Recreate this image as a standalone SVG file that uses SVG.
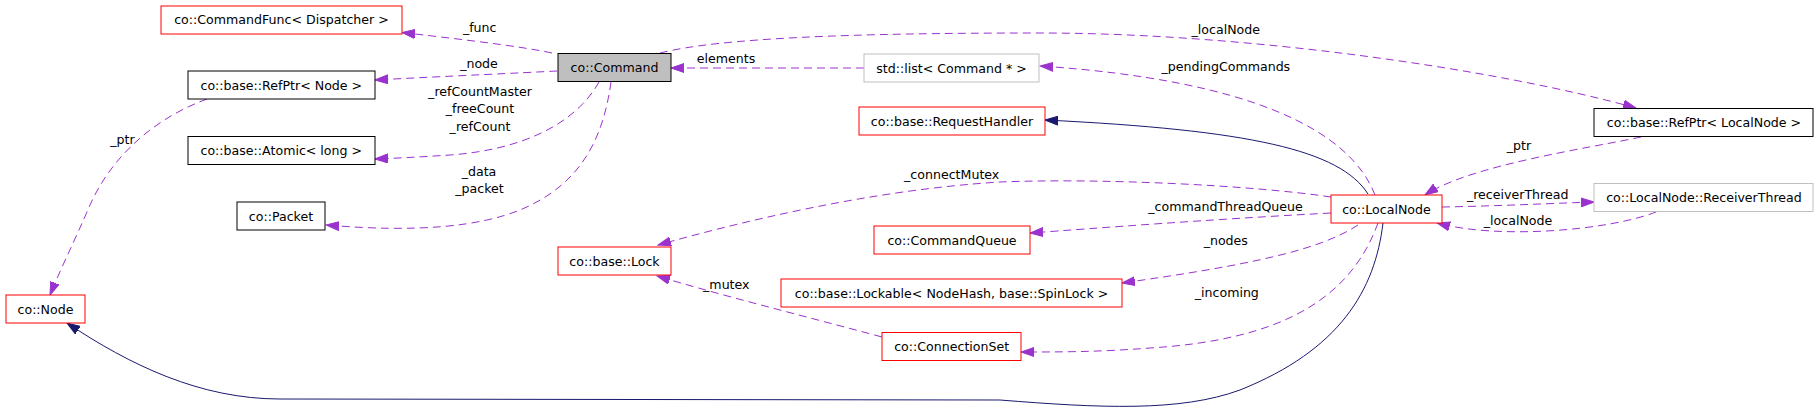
<svg xmlns="http://www.w3.org/2000/svg" width="1819" height="414" viewBox="0 0 1819 414">
<style>
text{font-family:"DejaVu Sans","Liberation Sans",sans-serif;font-size:12.6px;fill:#000;text-anchor:middle}
.box{fill:#fff;stroke-width:1}
.red{stroke:#ff0000}
.blk{stroke:#000}
.gry{stroke:#bfbfbf}
.cur{fill:#bfbfbf;stroke:#000}
.dep{fill:none;stroke:#9a32cd;stroke-width:1;stroke-dasharray:8,5}
.inh{fill:none;stroke:#191970;stroke-width:1}
</style>
<defs>
<marker id="ap" markerWidth="14" markerHeight="10" refX="13" refY="5" orient="auto" markerUnits="userSpaceOnUse"><path d="M0,0.5 L13,5 L0,9.5 z" fill="#9a32cd" stroke="#9a32cd"/></marker>
<marker id="ab" markerWidth="14" markerHeight="10" refX="13" refY="5" orient="auto" markerUnits="userSpaceOnUse"><path d="M0,0.5 L13,5 L0,9.5 z" fill="#191970" stroke="#191970"/></marker>
</defs>
<rect width="1819" height="414" fill="#fff"/>
<g id="connectors">
<path class="dep" marker-end="url(#ap)" d="M552,53 C520,46 450,38 402,32.5"/>
<path class="dep" marker-end="url(#ap)" d="M557,71 C520,73 450,76 375,80"/>
<path class="dep" marker-end="url(#ap)" d="M599,82 C575,125 520,150 450,155 C420,157 400,158 375,159"/>
<path class="dep" marker-end="url(#ap)" d="M611,82 C603,140 580,185 520,210 C480,226 420,233 326,225"/>
<path class="dep" marker-end="url(#ap)" d="M864,68 L671,68"/>
<path class="dep" marker-end="url(#ap)" d="M1375,195 C1350,130 1250,80 1040,66"/>
<path class="dep" marker-end="url(#ap)" d="M660,53 C720,38 850,33 1040,33 C1250,33 1500,70 1636,108"/>
<path class="dep" marker-end="url(#ap)" d="M1641,137 C1590,148 1470,165 1425,195"/>
<path class="dep" marker-end="url(#ap)" d="M1442,207 C1500,206 1560,203 1594,202"/>
<path class="dep" marker-end="url(#ap)" d="M1656,212 C1610,230 1500,240 1437,223"/>
<path class="dep" marker-end="url(#ap)" d="M1331,197 C1250,185 1100,178 1000,182 C870,190 740,222 658,245"/>
<path class="dep" marker-end="url(#ap)" d="M1331,213 C1200,220 1100,228 1030,233"/>
<path class="dep" marker-end="url(#ap)" d="M1358,225 C1320,250 1250,265 1122,283"/>
<path class="dep" marker-end="url(#ap)" d="M1378,223 C1350,300 1280,340 1150,348 C1100,352 1060,352 1021,352"/>
<path class="dep" marker-end="url(#ap)" d="M882,337 C800,315 720,295 657,276"/>
<path class="dep" marker-end="url(#ap)" d="M207,99 C150,120 110,160 90,205 C75,240 60,270 50,295"/>
<path class="inh" marker-end="url(#ab)" d="M1368,194 C1340,150 1250,130 1045,120"/>
<path class="inh" marker-end="url(#ab)" d="M1383,223 C1375,290 1340,350 1240,390 C1180,412 1100,408 1000,400 L280,399 C200,399 130,365 67,323"/>
<text x="479.7" y="31.5">_func</text>
<text x="479" y="67.8">_node</text>
<text x="480" y="95.5">_refCountMaster</text>
<text x="480" y="113.2">_freeCount</text>
<text x="480" y="131.2">_refCount</text>
<text x="479" y="176.2">_data</text>
<text x="479.5" y="193.2">_packet</text>
<text x="726" y="62.8">elements</text>
<text x="951.7" y="178.8">_connectMutex</text>
<text x="726.3" y="288.5">_mutex</text>
<text x="122.5" y="143.5">_ptr</text>
<text x="1225.8" y="33.5">_localNode</text>
<text x="1225.8" y="71.2">_pendingCommands</text>
<text x="1519" y="150.2">_ptr</text>
<text x="1517.7" y="198.5">_receiverThread</text>
<text x="1518" y="224.5">_localNode</text>
<text x="1225.5" y="211.2">_commandThreadQueue</text>
<text x="1225.8" y="244.5">_nodes</text>
<text x="1226.8" y="297.2">_incoming</text>
</g>
<g id="n_commandfunc"><rect class="box red" x="161" y="6" width="241" height="28"/><text x="281.5" y="24.2">co::CommandFunc&lt; Dispatcher &gt;</text></g>
<g id="n_refptr_node"><rect class="box blk" x="188" y="71" width="187" height="28"/><text x="281.3" y="89.5">co::base::RefPtr&lt; Node &gt;</text></g>
<g id="n_atomic"><rect class="box blk" x="188" y="136.5" width="187" height="28"/><text x="281.3" y="154.8">co::base::Atomic&lt; long &gt;</text></g>
<g id="n_packet"><rect class="box blk" x="237" y="202" width="88" height="28"/><text x="281" y="220.5">co::Packet</text></g>
<g id="n_node"><rect class="box red" x="6" y="295" width="79" height="28"/><text x="45.5" y="313.7">co::Node</text></g>
<g id="n_command"><rect class="cur" x="558" y="53.5" width="113" height="28"/><text x="614.5" y="72">co::Command</text></g>
<g id="n_list"><rect class="box gry" x="864" y="54" width="175" height="28"/><text x="951.5" y="72.5">std::list&lt; Command * &gt;</text></g>
<g id="n_requesthandler"><rect class="box red" x="859" y="107" width="186" height="28"/><text x="952" y="125.5">co::base::RequestHandler</text></g>
<g id="n_lock"><rect class="box red" x="558" y="247" width="113" height="28"/><text x="614.5" y="265.5">co::base::Lock</text></g>
<g id="n_commandqueue"><rect class="box red" x="874" y="226" width="156" height="28"/><text x="952" y="244.5">co::CommandQueue</text></g>
<g id="n_lockable"><rect class="box red" x="781" y="279" width="341" height="28"/><text x="951.5" y="297.5">co::base::Lockable&lt; NodeHash, base::SpinLock &gt;</text></g>
<g id="n_connectionset"><rect class="box red" x="882" y="332.5" width="139" height="28"/><text x="951.7" y="351">co::ConnectionSet</text></g>
<g id="n_refptr_localnode"><rect class="box blk" x="1594" y="108.5" width="219" height="28"/><text x="1704" y="127">co::base::RefPtr&lt; LocalNode &gt;</text></g>
<g id="n_localnode"><rect class="box red" x="1331" y="195" width="111" height="28"/><text x="1386.5" y="213.5">co::LocalNode</text></g>
<g id="n_receiverthread"><rect class="box gry" x="1594" y="183.5" width="219" height="28"/><text x="1704" y="202.3">co::LocalNode::ReceiverThread</text></g>
</svg>
